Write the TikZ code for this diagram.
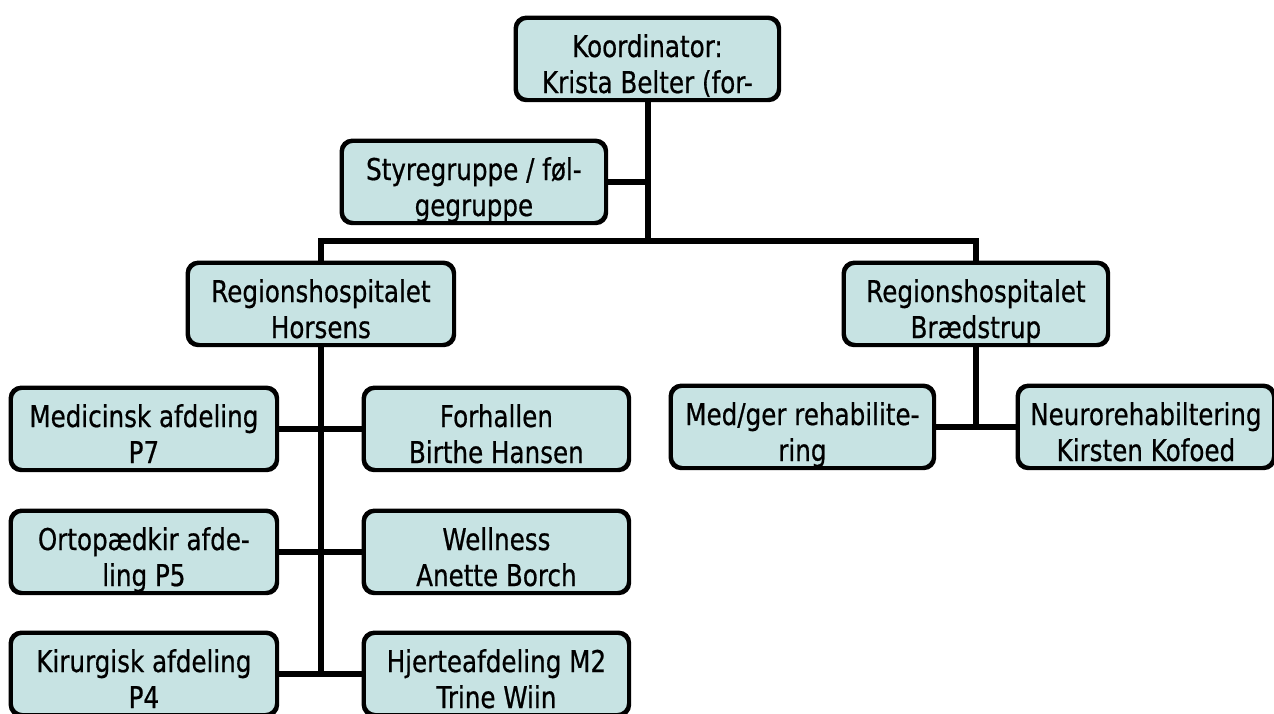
\documentclass[tikz,border=0pt]{standalone}
\usepackage{fontspec}
\setmainfont{DejaVu Sans}[FakeStretch=0.82,FakeBold=0.6]
\definecolor{boxfill}{RGB}{199,227,227}
\tikzset{
  box/.style={draw=black, line width=2.8pt, rounded corners=11pt, fill=boxfill,
    minimum width=#1, minimum height=81pt, anchor=north west, inner sep=0pt},
  box/.default=264pt,
  boxline/.style={draw=black, line width=2.8pt, rounded corners=11pt},
  txt/.style={font=\fontsize{30pt}{36pt}\selectfont, anchor=base, inner sep=0pt},
  conn/.style={draw=black, line width=6.5pt},
}
\newcommand\orgbox[6]{%
  \node[box=#4] (#1) at (#2,#3) {};
  \begin{scope}
    \clip[rounded corners=11pt] (#1.north west) rectangle (#1.south east);
    \node[txt] (#1a) at ([yshift=-40pt]#1.north) {#5};
    \node[txt] (#1b) at ([yshift=-76pt]#1.north) {#6};
  \end{scope}
  \path[boxline] (#1.north west) rectangle (#1.south east);
}
\begin{document}
\begin{tikzpicture}[x=1pt,y=-1pt]
\useasboundingbox (0,0) rectangle (1274,713);
\fill[white] (0,0) rectangle (1274,713);

\orgbox{koord}{515}{17}{262pt}{Koordinator:}{Krista Belter (for-}
\orgbox{styr}{341}{140}{263pt}{Styregruppe / føl-}{gegruppe}
\orgbox{hors}{187}{262}{265pt}{Regionshospitalet}{Horsens}
\orgbox{braed}{843}{262}{263pt}{Regionshospitalet}{Brædstrup}
\orgbox{med}{10}{387}{265pt}{Medicinsk afdeling}{P7}
\orgbox{forh}{363}{387}{264pt}{Forhallen}{Birthe Hansen}
\orgbox{ort}{10}{510}{265pt}{Ortopædkir afde-}{ling P5}
\orgbox{well}{363}{510}{264pt}{Wellness}{Anette Borch}
\orgbox{kir}{10}{632}{265pt}{Kirurgisk afdeling}{P4}
\orgbox{hjer}{363}{632}{264pt}{Hjerteafdeling M2}{Trine Wiin}
\orgbox{medger}{670}{385}{262pt}{Med/ger rehabilite-}{ring}
\orgbox{neuro}{1017}{385}{255pt}{Neurorehabiltering}{Kirsten Kofoed}

\coordinate (bar) at (648,241);
\draw[conn] (koord.south -| bar) -- (bar);
\draw[conn] (hors.north) |- (bar) -| (braed.north);
\draw[conn] (styr.east) -- (styr.east -| bar);
\draw[conn] (hors.south) -- (hors.south |- kir.east);
\draw[conn] (med.east) -- (forh.west);
\draw[conn] (ort.east) -- (well.west);
\draw[conn] (kir.east) -- (hjer.west);
\draw[conn] (braed.south) -- (braed.south |- medger.east);
\draw[conn] (medger.east) -- (neuro.west);
\end{tikzpicture}
\end{document}
